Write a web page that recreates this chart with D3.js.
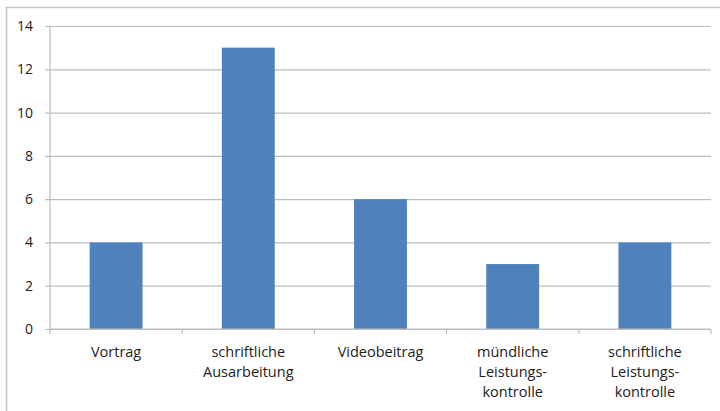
<!DOCTYPE html>
<html><head><meta charset="utf-8">
<script src="https://cdn.jsdelivr.net/npm/d3@7"></script>
<style>body{margin:0;background:#fff;}svg{display:block;}</style>
</head><body>
<svg id="c" width="720" height="411"></svg>
<script>
const categories = [
  ["Vortrag"],
  ["schriftliche", "Ausarbeitung"],
  ["Videobeitrag"],
  ["mündliche", "Leistungs-", "kontrolle"],
  ["schriftliche", "Leistungs-", "kontrolle"]
];
const values = [4, 13, 6, 3, 4];
const yTicks = [0, 2, 4, 6, 8, 10, 12, 14];

const svg = d3.select("#c");
const font = "'Open Sans', 'Liberation Sans', sans-serif";
const m = {left: 50, right: 711, top: 26, bottom: 329};

svg.append("rect").attr("x", 6.5).attr("y", 7.5).attr("width", 720).attr("height", 420)
  .attr("fill", "#fff").attr("stroke", "#c4c4c4").attr("stroke-width", 1.5);

const ids = categories.map((d, i) => i);
const x = d3.scaleBand().domain(ids).range([m.left, m.right]).paddingInner(0.6).paddingOuter(0.3);
const y = d3.scaleLinear().domain([0, 14]).range([m.bottom, m.top]);

// gridlines + y axis
const ya = svg.append("g").attr("transform", `translate(${m.left},0)`)
  .call(d3.axisLeft(y).tickValues(yTicks).tickSize(-(m.right - m.left)).tickPadding(17).tickFormat(d3.format("d")));
ya.select(".domain").remove();
ya.selectAll(".tick line").attr("stroke", "#bdbdbd").attr("stroke-width", 1.2).attr("x1", -5);
ya.selectAll(".tick text").attr("fill", "#222").style("font-family", font).style("font-size", "14px");
svg.append("line").attr("x1", m.left).attr("x2", m.left).attr("y1", m.top).attr("y2", m.bottom)
  .attr("stroke", "#bdbdbd").attr("stroke-width", 1.2);

// bars
svg.append("g").selectAll("rect").data(values).join("rect")
  .attr("x", (d, i) => x(i)).attr("width", x.bandwidth())
  .attr("y", d => y(d)).attr("height", d => y(0) - y(d))
  .attr("fill", "#4f81bd");

// x axis
const step = x.step();
const xa = svg.append("g").attr("transform", `translate(0,${m.bottom})`);
xa.append("line").attr("x1", m.left).attr("x2", m.right).attr("stroke", "#bdbdbd").attr("stroke-width", 1.2);
const edges = ids.map(i => x(i) - x.paddingInner() * step / 2).concat([m.right]);
xa.selectAll("line.t").data(edges).join("line").attr("class", "t")
  .attr("x1", d => d).attr("x2", d => d).attr("y1", 0).attr("y2", 5)
  .attr("stroke", "#bdbdbd").attr("stroke-width", 1.2);
const lab = xa.selectAll("text").data(categories).join("text")
  .attr("x", (d, i) => x(i) + x.bandwidth() / 2)
  .attr("text-anchor", "middle").attr("fill", "#222")
  .style("font-family", font).style("font-size", "14.5px");
lab.selectAll("tspan").data((d, i) => d.map(s => ({s, i}))).join("tspan")
  .attr("x", d => x(d.i) + x.bandwidth() / 2)
  .attr("y", (d, j) => 28 + j * 20)
  .text(d => d.s);
</script>
</body></html>
